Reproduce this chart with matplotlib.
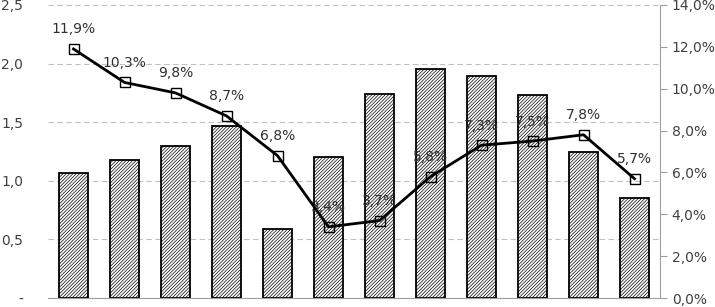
import numpy as np
import matplotlib
matplotlib.use("Agg")
import matplotlib.pyplot as plt
from matplotlib.ticker import FuncFormatter

# data
bar_values = [1.07, 1.18, 1.30, 1.47, 0.59, 1.20, 1.74, 1.95, 1.89, 1.73, 1.25, 0.85]
rate_values = [11.9, 10.3, 9.8, 8.7, 6.8, 3.4, 3.7, 5.8, 7.3, 7.5, 7.8, 5.7]
left_ticks = [0, 0.5, 1.0, 1.5, 2.0, 2.5]
right_ticks = [0, 2, 4, 6, 8, 10, 12, 14]

plt.rcParams['font.family'] = ['DejaVu Sans']
plt.rcParams['hatch.linewidth'] = 0.5
plt.rcParams['hatch.color'] = '#303030'

fig = plt.figure(figsize=(7.15, 3.07), dpi=100)
ax = fig.add_axes([48/715, 9/307, 612/715, 293/307])

x = np.arange(len(bar_values))
ax.bar(x, bar_values, width=0.58, color='white', edgecolor='black',
       hatch='//////////', linewidth=1.3, zorder=2)
ax.set_xlim(-0.5, len(bar_values) - 0.5)
ax.set_ylim(0, 2.5)
ax.set_yticks(left_ticks)
ax.yaxis.set_major_formatter(FuncFormatter(
    lambda v, p: '-' if v == 0 else f'{v:.1f}'.replace('.', ',')))
ax.grid(axis='y', color='#c0c0c0', linestyle=(0, (5, 3)), linewidth=0.8, zorder=0)
ax.set_axisbelow(True)
ax.set_xticks([])
for s in ['top', 'left', 'right']:
    ax.spines[s].set_visible(False)
ax.spines['bottom'].set_color('#a0a0a0')
ax.tick_params(axis='y', length=0, labelsize=10, colors='#404040', pad=18)

ax2 = ax.twinx()
ax2.plot(x, rate_values, color='black', linewidth=2, marker='s', markersize=7,
         markerfacecolor='none', markeredgecolor='black', markeredgewidth=1, zorder=3)
ax2.set_ylim(0, 14)
ax2.set_yticks(right_ticks)
ax2.yaxis.set_major_formatter(FuncFormatter(lambda v, p: f'{v:.1f}%'.replace('.', ',')))
for s in ['top', 'left', 'bottom']:
    ax2.spines[s].set_visible(False)
ax2.spines['right'].set_color('#a0a0a0')
ax2.tick_params(axis='y', length=5, color='#a0a0a0', labelsize=10, labelcolor='#404040')

for xi, v in zip(x, rate_values):
    ax2.annotate(f'{v:.1f}%'.replace('.', ','), (xi, v), xytext=(0, 9),
                 textcoords='offset points', ha='center', va='bottom',
                 fontsize=10, color='#303030')

fig.savefig('out.png', dpi=100)
